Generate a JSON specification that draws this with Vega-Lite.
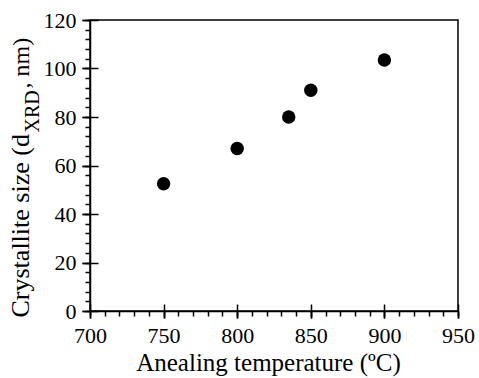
{
  "$schema": "https://vega.github.io/schema/vega-lite/v6.json",
  "width": 368,
  "height": 291,
  "autosize": {"type": "none"},
  "padding": {"left": 90, "top": 20, "right": 21, "bottom": 67},
  "background": "white",
  "config": {
    "font": "Liberation Serif",
    "view": {"stroke": "black", "strokeWidth": 1.5},
    "axis": {
      "grid": false,
      "domainColor": "black",
      "domainWidth": 1.5,
      "tickColor": "black",
      "tickWidth": 1.5,
      "labelFont": "Liberation Serif",
      "labelFontSize": 22,
      "labelColor": "black",
      "labelFlush": false,
      "labelOverlap": false,
      "titleFont": "Liberation Serif",
      "titleFontSize": 24,
      "titleFontWeight": "normal",
      "titleColor": "black"
    }
  },
  "data": {
    "values": [
      {"temp": 750, "size": 52.5},
      {"temp": 800, "size": 67},
      {"temp": 835, "size": 80},
      {"temp": 850, "size": 91},
      {"temp": 900, "size": 103.5}
    ]
  },
  "layer": [
    {
      "mark": {"type": "point", "filled": true, "color": "black", "opacity": 1, "size": 180},
      "encoding": {
        "x": {
          "field": "temp", "type": "quantitative",
          "scale": {"domain": [700, 950], "nice": false, "zero": false},
          "axis": {
            "orient": "bottom",
            "values": [700, 750, 800, 850, 900, 950],
            "tickSize": 7,
            "labelPadding": 7,
            "labelFont": "Liberation Serif",
            "labelFontSize": 22,
            "labelFlush": false,
            "title": "Anealing temperature (ºC)",
            "titleFontSize": 25,
            "titleX": 178,
            "titleY": 59,
            "titleAlign": "center",
            "titleBaseline": "alphabetic"
          }
        },
        "y": {
          "field": "size", "type": "quantitative",
          "scale": {"domain": [0, 120], "nice": false},
          "axis": {
            "orient": "left",
            "values": [0, 20, 40, 60, 80, 100, 120],
            "tickSize": 8,
            "labelPadding": 6,
            "labelFont": "Liberation Serif",
            "labelFontSize": 22,
            "labelFlush": false,
            "title": "Crystallite size (d",
            "titleFontSize": 26,
            "titleX": -62,
            "titleY": 297,
            "titleAngle": 270,
            "titleAlign": "left",
            "titleBaseline": "alphabetic"
          }
        }
      }
    },
    {
      "mark": {"type": "point", "filled": true, "opacity": 0},
      "encoding": {
        "x": {
          "field": "temp", "type": "quantitative",
          "axis": {
            "orient": "bottom",
            "values": [700, 710, 720, 730, 740, 750, 760, 770, 780, 790, 800, 810, 820, 830, 840, 850, 860, 870, 880, 890, 900, 910, 920, 930, 940, 950],
            "tickSize": 5,
            "labels": false,
            "domain": false,
            "title": null
          }
        },
        "y": {
          "field": "size", "type": "quantitative",
          "axis": {
            "orient": "left",
            "values": [0, 4, 8, 12, 16, 20, 24, 28, 32, 36, 40, 44, 48, 52, 56, 60, 64, 68, 72, 76, 80, 84, 88, 92, 96, 100, 104, 108, 112, 116, 120],
            "tickSize": 5,
            "labels": false,
            "domain": false,
            "title": "XRD",
            "titleFontSize": 20,
            "titleX": -52,
            "titleY": 112,
            "titleAngle": 270,
            "titleAlign": "left",
            "titleBaseline": "alphabetic"
          }
        }
      }
    },
    {
      "mark": {"type": "point", "filled": true, "opacity": 0},
      "encoding": {
        "x": {
          "field": "temp", "type": "quantitative",
          "axis": {
            "orient": "bottom",
            "offset": -7,
            "values": [700, 750, 800, 850, 900, 950],
            "tickSize": 14,
            "labels": false,
            "domain": false,
            "title": null
          }
        },
        "y": {
          "field": "size", "type": "quantitative",
          "axis": {
            "orient": "left",
            "offset": -8,
            "values": [0, 20, 40, 60, 80, 100, 120],
            "tickSize": 16,
            "labels": false,
            "domain": false,
            "title": ", nm)",
            "titleX": -70,
            "titleY": 68,
            "titleAngle": 270,
            "titleAlign": "left",
            "titleBaseline": "alphabetic"
          }
        }
      }
    }
  ],
  "resolve": {"axis": {"x": "independent", "y": "independent"}}
}
